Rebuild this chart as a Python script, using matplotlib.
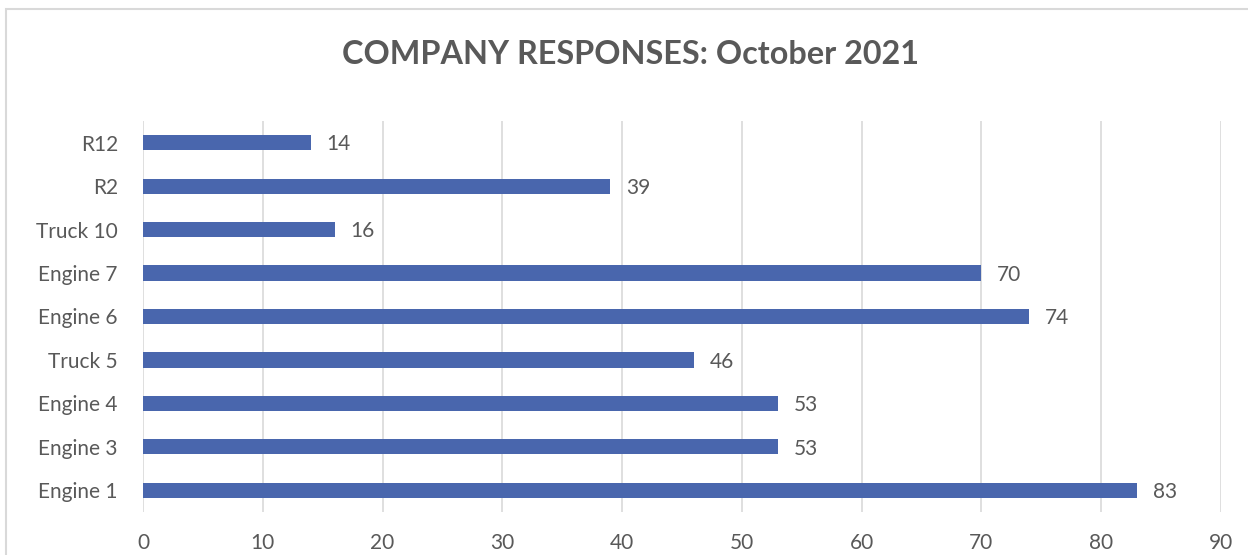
import matplotlib.pyplot as plt
from matplotlib.patches import Rectangle

plt.rcParams['font.family'] = ['Lato', 'DejaVu Sans']

# data, bottom to top
units = ["Engine 1", "Engine 3", "Engine 4", "Truck 5", "Engine 6",
         "Engine 7", "Truck 10", "R2", "R12"]
responses = [83, 53, 53, 46, 74, 70, 16, 39, 14]
x_ticks = [0, 10, 20, 30, 40, 50, 60, 70, 80, 90]

txt = '#595959'
bar_col = '#4966ad'

fig = plt.figure(figsize=(12.48, 5.55), dpi=100)
ax = fig.add_axes([143/1248, 1 - 512/555, (1221 - 143)/1248, (512 - 121)/555])

ypos = range(len(units))
ax.barh(ypos, responses, height=0.35, color=bar_col, zorder=3)
for y, v in zip(ypos, responses):
    ax.text(v + 1.3, y - 0.04, str(v), va='center', ha='left', fontsize=15, color=txt)

ax.set_xlim(0, 90)
ax.set_ylim(-0.5, len(units) - 0.5)
ax.set_xticks(x_ticks)
ax.set_yticks(list(ypos))
ax.set_yticklabels(units)
ax.tick_params(axis='both', length=0, labelsize=15, colors=txt)
ax.tick_params(axis='x', pad=15)
ax.tick_params(axis='y', pad=18)
ax.grid(axis='x', color='#d9d9d9', linewidth=1.2, zorder=0)
for s in ax.spines.values():
    s.set_visible(False)

fig.text(630/1248, 1 - 54/555, "COMPANY RESPONSES: October 2021",
         ha='center', va='center', fontsize=23.3, fontweight='bold', color=txt)

# outer chart border
fig.patches.append(Rectangle((6/1248, -0.1), 1.1, 1 - 9/555 + 0.1,
                             transform=fig.transFigure, fill=False,
                             edgecolor='#d9d9d9', linewidth=1.5))

fig.savefig('out.png', dpi=100)
